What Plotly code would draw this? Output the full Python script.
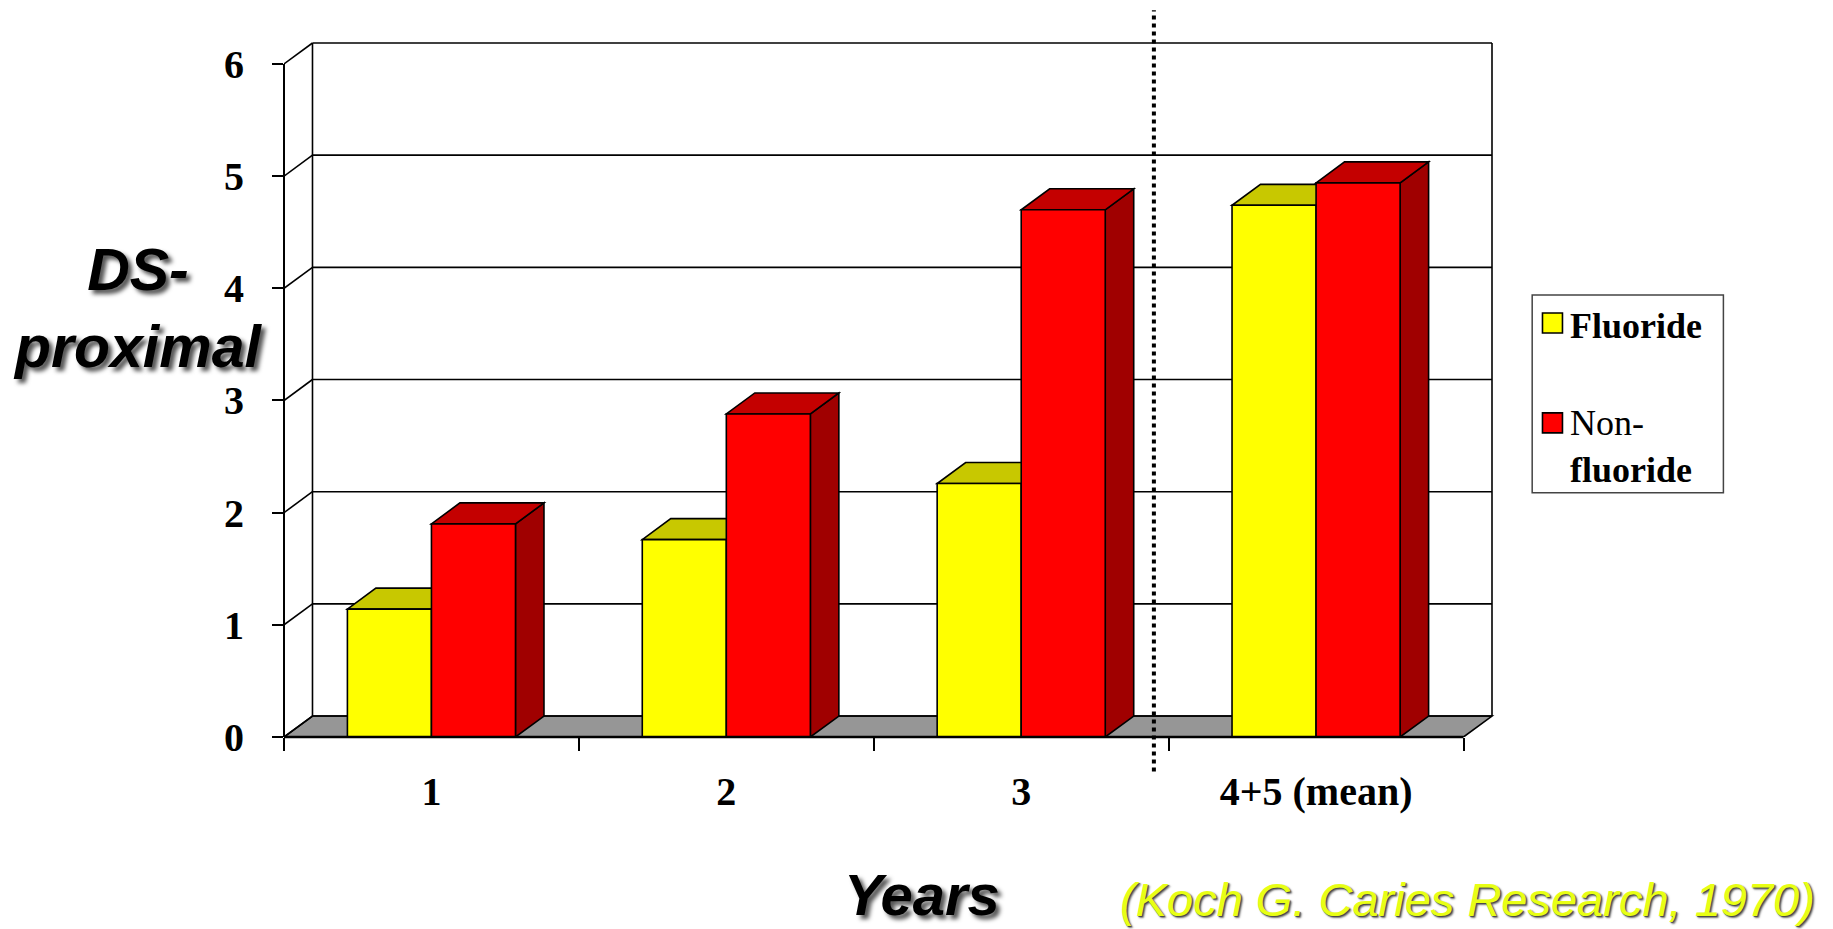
import plotly.graph_objects as go

# ---------------- data ----------------
categories = ["1", "2", "3", "4+5 (mean)"]
fluoride = [1.14, 1.76, 2.26, 4.74]
non_fluoride = [1.90, 2.88, 4.70, 4.94]
series_names = ["Fluoride", "Non-fluoride"]
y_ticks = [0, 1, 2, 3, 4, 5, 6]
y_title = "DS-<br>proximal"
x_title = "Years"
citation = "(Koch G. Caries Research, 1970)"

# ---------------- layout geometry (pixels) ----------------
W, H = 1833, 929
PAD = 3
L, R, T, B = 284, 1492.5 + PAD, 42.7 - PAD, 737.5
CAT_PX = 295.0          # pixels per category
UNIT_PX = 112.3         # pixels per y unit
DX = 28.5 / CAT_PX      # depth offset in category units
DY = 21.0 / UNIT_PX     # depth offset in y units
BW = 0.285              # bar width (category units)
YMAX = max(y_ticks)
N = len(categories)
XMIN = -0.5
XMAX = N - 0.5 + DX + PAD / CAT_PX
YTOP = YMAX + DY + PAD / UNIT_PX
SEPARATOR_X = 2.45


def px(xp):
    return (xp - L) / (R - L)


def py(yp):
    return (B - yp) / (B - T)


YEL, YEL_TOP, YEL_SIDE = "#FFFF00", "#C8C800", "#A0A000"
RED, RED_TOP, RED_SIDE = "#FF0000", "#C40000", "#A00000"
FLOOR = "#969696"
LINE = dict(color="black", width=1.6)

fig = go.Figure()
for name, vals, col in [(series_names[0], fluoride, YEL), (series_names[1], non_fluoride, RED)]:
    fig.add_trace(go.Bar(
        x=categories, y=vals, name=name,
        marker=dict(color=col, line=dict(color="black", width=1.6)),
        cliponaxis=False, showlegend=False, hoverinfo="x+y+name",
    ))

shapes = []
# floor
shapes.append(dict(type="path", xref="x", yref="y", layer="below",
                   path=f"M {XMIN},0 L {N-0.5},0 L {N-0.5+DX},{DY} L {XMIN+DX},{DY} Z",
                   fillcolor=FLOOR, line=LINE))
# back wall gridlines + side wall diagonals
for v in y_ticks:
    shapes.append(dict(type="line", xref="x", yref="y", layer="below",
                       x0=XMIN + DX, x1=N - 0.5 + DX, y0=v + DY, y1=v + DY, line=LINE))
    shapes.append(dict(type="line", xref="x", yref="y", layer="below",
                       x0=XMIN, x1=XMIN + DX, y0=v, y1=v + DY, line=LINE))
# back wall verticals
for xv in [XMIN + DX, N - 0.5 + DX]:
    shapes.append(dict(type="line", xref="x", yref="y", layer="below",
                       x0=xv, x1=xv, y0=DY, y1=YMAX + DY, line=LINE))

# 3D faces of bars (tops and right sides)
for i in range(N):
    for k, (vals, top, side) in enumerate([(fluoride, YEL_TOP, YEL_SIDE), (non_fluoride, RED_TOP, RED_SIDE)]):
        v = vals[i]
        x0 = i - BW + k * BW
        x1 = x0 + BW
        shapes.append(dict(type="path", xref="x", yref="y", layer="below",
                           path=f"M {x1},0 L {x1},{v} L {x1+DX},{v+DY} L {x1+DX},{DY} Z",
                           fillcolor=side, line=LINE))
        shapes.append(dict(type="path", xref="x", yref="y", layer="below",
                           path=f"M {x0},{v} L {x1},{v} L {x1+DX},{v+DY} L {x0+DX},{v+DY} Z",
                           fillcolor=top, line=LINE))

# front axis lines (domain refs so they are not clipped at the edge)
shapes.append(dict(type="line", xref="x domain", yref="y", x0=0, x1=0, y0=0, y1=YMAX,
                   line=dict(color="black", width=2), layer="above"))
shapes.append(dict(type="line", xref="x", yref="y domain", x0=XMIN, x1=N - 0.5, y0=0, y1=0,
                   line=dict(color="black", width=2.5), layer="above"))

# dotted separator
shapes.append(dict(type="line", xref="x", yref="paper", x0=SEPARATOR_X, x1=SEPARATOR_X,
                   y0=py(772), y1=py(10), line=dict(color="black", width=4, dash="dot"),
                   layer="above"))

# custom legend
shapes.append(dict(type="rect", xref="paper", yref="paper", x0=px(1532.7), x1=px(1724),
                   y0=py(493), y1=py(295), line=dict(color="#444", width=1.5), fillcolor="white"))
shapes.append(dict(type="rect", xref="paper", yref="paper", x0=px(1543), x1=px(1563),
                   y0=py(333), y1=py(313), line=dict(color="black", width=1.6), fillcolor=YEL))
shapes.append(dict(type="rect", xref="paper", yref="paper", x0=px(1543), x1=px(1563),
                   y0=py(433), y1=py(413), line=dict(color="black", width=1.6), fillcolor=RED))

serif = "Liberation Serif, Times New Roman, serif"
sans = "Liberation Sans, Arial, sans-serif"
annotations = [
    dict(text=series_names[0], x=px(1569), y=py(326), xanchor="left", yanchor="middle",
         font=dict(family=serif, size=36, color="black", weight="bold")),
    dict(text=series_names[1].split("-")[0] + "-", x=px(1569), y=py(423), xanchor="left", yanchor="middle",
         font=dict(family=serif, size=36, color="black")),
    dict(text=series_names[1].split("-")[1], x=px(1569), y=py(470), xanchor="left", yanchor="middle",
         font=dict(family=serif, size=36, color="black", weight="bold")),
    dict(text=y_title, x=px(138), y=py(309), xanchor="center", yanchor="middle", align="center",
         font=dict(family=sans, size=59, color="black", weight="bold", style="italic",
                   shadow="4px 4px 4px #555")),
    dict(text=x_title, x=px(922), y=py(895), xanchor="center", yanchor="middle",
         font=dict(family=sans, size=58, color="black", weight="bold", style="italic",
                   shadow="4px 4px 4px #555")),
    dict(text=citation, x=px(1468), y=py(900), xanchor="center", yanchor="middle",
         font=dict(family=sans, size=47, color="#E8FF14", style="italic",
                   shadow="1px 1px 1px #444, 2px 2px 2px #777")),
]
for a in annotations:
    a.update(xref="paper", yref="paper", showarrow=False)

fig.update_layout(
    width=W, height=H,
    margin=dict(l=L, r=W - R, t=T, b=H - B, pad=0),
    paper_bgcolor="white", plot_bgcolor="white",
    barmode="group", bargap=1 - 2 * BW, bargroupgap=0,
    shapes=shapes, annotations=annotations, showlegend=False,
    xaxis=dict(type="category", range=[XMIN, XMAX], showgrid=False, zeroline=False,
               showline=False, tickson="boundaries", ticks="outside", ticklen=13,
               tickwidth=1.5, tickcolor="black", ticklabelstandoff=27,
               tickfont=dict(family=serif, size=40, color="black", weight="bold")),
    yaxis=dict(range=[0, YTOP], tickvals=y_ticks, showgrid=False, zeroline=False,
               showline=False, ticks="outside", ticklen=11, tickwidth=1.5,
               tickcolor="black", ticklabelstandoff=20,
               tickfont=dict(family=serif, size=40, color="black", weight="bold")),
)

fig.write_html("out.html", config={"displayModeBar": False},
               post_script="document.body.style.margin='0';document.body.style.overflow='hidden';")
